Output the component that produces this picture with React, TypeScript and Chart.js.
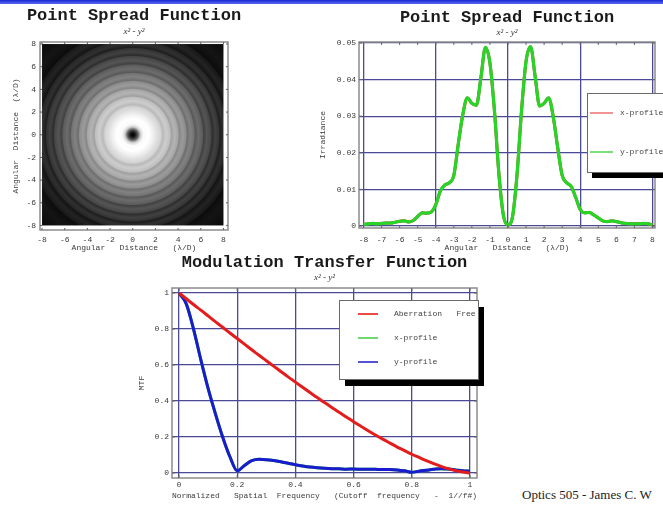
import React, { useEffect, useRef } from "react";
import { Chart, registerables } from "chart.js";

Chart.register(...registerables);

const MONO = "'Liberation Mono', 'DejaVu Sans Mono', monospace";
const SERIF = "'Liberation Serif', 'DejaVu Serif', serif";
const GRID = "#4a4a96";
const TEXT = "#3a3a3a";

// ---------- Left panel: PSF image (radial grey-level profile) ----------
const psfRingRadius = [
  0, 0.2, 0.45, 0.7, 0.95, 1.4, 1.8, 2.1, 2.45, 2.65, 2.95, 3.3, 3.4, 3.7, 4.0, 4.1, 4.4, 4.7, 4.8, 5.1,
  5.4, 5.5, 5.8, 6.15, 6.25, 6.55, 6.9, 7.0, 7.3, 7.6, 7.7, 8.0, 8.3, 8.4, 8.8, 9.2, 9.3, 10, 11.5,
];
const psfRingGray = [
  0, 20, 90, 210, 250, 255, 240, 225, 212, 185, 205, 190, 160, 180, 165, 135, 155, 140, 110, 130,
  115, 88, 108, 92, 65, 85, 70, 45, 65, 52, 30, 48, 38, 20, 35, 25, 12, 20, 8,
];
const psfImageExtent = [-8, 8];
const psfImageTicks = [-8, -6, -4, -2, 0, 2, 4, 6, 8];
const psfImageTickLabels = ["-8", "-6", "-4", "-2", "0", "2", "4", "6", "8"];

// ---------- Middle panel: PSF profiles ----------
const psfDistance = [
  -8, -7.75, -7.5, -7.25, -7, -6.75, -6.5, -6.25, -6, -5.75, -5.5, -5.25, -5, -4.75, -4.5, -4.25,
  -4, -3.75, -3.5, -3.25, -3, -2.75, -2.5, -2.25, -2, -1.75, -1.5, -1.25, -1, -0.75, -0.5, -0.25,
  0, 0.25, 0.5, 0.75, 1, 1.25, 1.5, 1.75, 2, 2.25, 2.5, 2.75, 3, 3.25, 3.5, 3.75,
  4, 4.25, 4.5, 4.75, 5, 5.25, 5.5, 5.75, 6, 6.25, 6.5, 6.75, 7, 7.25, 7.5, 7.75, 8,
];
const psfYProfile = [
  0.0004, 0.0006, 0.0007, 0.0006, 0.0007, 0.0008, 0.0008, 0.001, 0.0013, 0.0014, 0.0011, 0.0015, 0.0026, 0.0036, 0.0035, 0.0038,
  0.0058, 0.0095, 0.0112, 0.0118, 0.0138, 0.0225, 0.0305, 0.035, 0.0335, 0.033, 0.0405, 0.0488, 0.0445, 0.0315, 0.014, 0.0028,
  0.0003, 0.0025, 0.014, 0.0315, 0.045, 0.049, 0.041, 0.0328, 0.0335, 0.035, 0.03, 0.0215, 0.0138, 0.0118, 0.0108, 0.0078,
  0.0045, 0.0036, 0.0037, 0.003, 0.0022, 0.0014, 0.0012, 0.0014, 0.0012, 0.0009, 0.0007, 0.0006, 0.0006, 0.0006, 0.0007, 0.0006, 0.0003,
];
const psfXProfile = psfYProfile; // identical profile, hidden under the y-profile
const psfDistanceTicks = [-8, -7, -6, -5, -4, -3, -2, -1, 0, 1, 2, 3, 4, 5, 6, 7, 8];
const psfDistanceTickLabels = ["-8", "-7", "-6", "-5", "-4", "-3", "-2", "-1", "0", "1", "2", "3", "4", "5", "6", "7", "8"];
const psfGridDistances = [-8, -4, 0, 4, 8];
const psfIrradianceTicks = [0, 0.01, 0.02, 0.03, 0.04, 0.05];
const psfIrradianceTickLabels = ["0", "0.01", "0.02", "0.03", "0.04", "0.05"];

// ---------- Bottom panel: MTF ----------
const mtfFrequency = [
  0, 0.025, 0.05, 0.075, 0.1, 0.125, 0.15, 0.175, 0.2, 0.225, 0.25, 0.275, 0.3, 0.325, 0.35, 0.375, 0.4, 0.425, 0.45, 0.475,
  0.5, 0.525, 0.55, 0.575, 0.6, 0.625, 0.65, 0.675, 0.7, 0.725, 0.75, 0.775, 0.8, 0.825, 0.85, 0.875, 0.9, 0.925, 0.95, 0.975, 1,
];
const mtfAberrationFree = [
  1, 0.968, 0.936, 0.905, 0.873, 0.841, 0.81, 0.778, 0.747, 0.716, 0.685, 0.654, 0.624, 0.594, 0.564, 0.534, 0.505, 0.476, 0.447, 0.419,
  0.391, 0.364, 0.337, 0.311, 0.285, 0.26, 0.235, 0.211, 0.188, 0.166, 0.144, 0.124, 0.104, 0.086, 0.068, 0.052, 0.037, 0.024, 0.013, 0.005, 0,
];
const mtfYProfile = [
  1, 0.94, 0.8, 0.63, 0.47, 0.33, 0.2, 0.09, 0.012, 0.042, 0.068, 0.076, 0.074, 0.069, 0.062, 0.054, 0.046, 0.039, 0.033, 0.029,
  0.026, 0.024, 0.023, 0.021, 0.022, 0.02, 0.021, 0.02, 0.019, 0.019, 0.017, 0.012, 0.004, 0.01, 0.015, 0.02, 0.024, 0.022, 0.017, 0.012, 0.01,
];
const mtfXProfile = mtfYProfile; // identical profile, hidden under the y-profile
const mtfTicks = [0, 0.2, 0.4, 0.6, 0.8, 1];
const mtfTickLabels = ["0", "0.2", "0.4", "0.6", "0.8", "1"];

type AxisOpts = {
  position: "bottom" | "left";
  min: number;
  max: number;
  ticks: number[];
  labels: string[];
  size: number;
  tickPad: number;
  title: string;
  titlePad: number;
  gridOn?: (v: number) => boolean;
};

function linearAxis(o: AxisOpts) {
  const horizontal = o.position === "bottom";
  return {
    type: "linear",
    position: o.position,
    min: o.min,
    max: o.max,
    afterBuildTicks: (s: any) => {
      s.ticks = o.ticks.map((value) => ({ value }));
    },
    afterFit: (s: any) => {
      if (horizontal) s.height = o.size;
      else s.width = o.size;
    },
    ticks: {
      autoSkip: false,
      maxRotation: 0,
      minRotation: 0,
      padding: o.tickPad,
      color: TEXT,
      font: { family: MONO, size: 8, lineHeight: 1.2 },
      callback: (_v: any, i: number) => o.labels[i],
    },
    grid: {
      display: !!o.gridOn,
      drawTicks: false,
      lineWidth: 1.3,
      color: (c: any) => (c.tick && o.gridOn && o.gridOn(c.tick.value) ? GRID : "rgba(0,0,0,0)"),
    },
    border: { display: false },
    title: {
      display: true,
      text: o.title,
      color: TEXT,
      font: { family: MONO, size: 8, lineHeight: 1.2 },
      padding: horizontal ? { top: 0, bottom: o.titlePad } : { top: o.titlePad, bottom: 0 },
    },
  };
}

function framePlugin(tickLen: number) {
  return {
    id: "frame",
    afterDatasetsDraw(chart: any) {
      const { ctx, chartArea: a, scales } = chart;
      ctx.save();
      ctx.strokeStyle = "#8c8c8c";
      ctx.lineWidth = 1.5;
      ctx.strokeRect(a.left, a.top, a.right - a.left, a.bottom - a.top);
      ctx.strokeStyle = "#666";
      ctx.lineWidth = 1;
      ctx.beginPath();
      for (const t of scales.x.ticks) {
        const p = scales.x.getPixelForValue(t.value);
        ctx.moveTo(p, a.bottom);
        ctx.lineTo(p, a.bottom - tickLen);
        ctx.moveTo(p, a.top);
        ctx.lineTo(p, a.top + tickLen);
      }
      for (const t of scales.y.ticks) {
        const p = scales.y.getPixelForValue(t.value);
        ctx.moveTo(a.left, p);
        ctx.lineTo(a.left + tickLen, p);
        ctx.moveTo(a.right, p);
        ctx.lineTo(a.right - tickLen, p);
      }
      ctx.stroke();
      ctx.restore();
    },
  };
}

function headingPlugin(title: string, subtitle: string, titleDy: number, subDy: number) {
  return {
    id: "heading",
    afterDraw(chart: any) {
      const { ctx, chartArea: a } = chart;
      const cx = (a.left + a.right) / 2;
      ctx.save();
      ctx.textAlign = "center";
      ctx.textBaseline = "middle";
      ctx.fillStyle = "#1a1a1a";
      ctx.font = `bold 17px ${MONO}`;
      ctx.fillText(title, cx, a.top - titleDy);
      ctx.fillStyle = "#333";
      ctx.font = `italic 9px ${SERIF}`;
      ctx.fillText(subtitle, cx, a.top - subDy);
      ctx.restore();
    },
  };
}

type LegendCfg = {
  dx: number;
  dy: number;
  w: number;
  h: number;
  sx: number;
  sy: number;
  rows: number[];
  lineX0: number;
  lineX1: number;
  textX: number;
  colors: string[];
};

function boxLegendPlugin(cfg: LegendCfg) {
  return {
    id: "boxLegend",
    afterDraw(chart: any) {
      const { ctx, chartArea: a } = chart;
      const x = a.left + cfg.dx;
      const y = a.top + cfg.dy;
      ctx.save();
      ctx.fillStyle = "#000";
      ctx.fillRect(x + cfg.sx, y + cfg.sy, cfg.w, cfg.h);
      ctx.fillStyle = "#fff";
      ctx.fillRect(x, y, cfg.w, cfg.h);
      ctx.strokeStyle = "#6a6a6a";
      ctx.lineWidth = 1;
      ctx.strokeRect(x + 0.5, y + 0.5, cfg.w, cfg.h);
      ctx.beginPath();
      ctx.rect(x + 1, y + 1, cfg.w - 1, cfg.h - 1);
      ctx.clip();
      chart.data.datasets.forEach((ds: any, i: number) => {
        const ry = y + cfg.rows[i];
        ctx.strokeStyle = cfg.colors[i];
        ctx.lineWidth = 1.6;
        ctx.beginPath();
        ctx.moveTo(x + cfg.lineX0, ry);
        ctx.lineTo(x + cfg.lineX1, ry);
        ctx.stroke();
        ctx.fillStyle = "#444";
        ctx.font = `8px ${MONO}`;
        ctx.textAlign = "left";
        ctx.textBaseline = "middle";
        ctx.fillText(String(ds.label).replace(/ /g, "   "), x + cfg.textX, ry);
      });
      ctx.restore();
    },
  };
}

const psfImagePlugin = {
  id: "psfImage",
  beforeDatasetsDraw(chart: any) {
    const { ctx, scales } = chart;
    const xs = scales.x;
    const ys = scales.y;
    const x0 = xs.getPixelForValue(psfImageExtent[0]);
    const x1 = xs.getPixelForValue(psfImageExtent[1]);
    const y0 = ys.getPixelForValue(psfImageExtent[1]);
    const y1 = ys.getPixelForValue(psfImageExtent[0]);
    const cx = xs.getPixelForValue(0);
    const cy = ys.getPixelForValue(0);
    const rMax = psfRingRadius[psfRingRadius.length - 1];
    const R = xs.getPixelForValue(rMax) - cx;
    const g = ctx.createRadialGradient(cx, cy, 0, cx, cy, R);
    psfRingRadius.forEach((r, i) => {
      const v = psfRingGray[i];
      g.addColorStop(r / rMax, `rgb(${v},${v},${v})`);
    });
    ctx.save();
    ctx.fillStyle = g;
    ctx.fillRect(x0, y0, x1 - x0, y1 - y0);
    ctx.restore();
  },
};

const baseOptions = {
  animation: false,
  responsive: false,
  maintainAspectRatio: false,
  events: [],
};

export default function App() {
  const c1 = useRef<HTMLCanvasElement>(null);
  const c2 = useRef<HTMLCanvasElement>(null);
  const c3 = useRef<HTMLCanvasElement>(null);

  useEffect(() => {
    const charts: Chart[] = [];

    charts.push(
      new Chart(c1.current as HTMLCanvasElement, {
        type: "scatter",
        data: { datasets: [{ label: "x² - y²", data: [] }] },
        options: {
          ...baseOptions,
          layout: { padding: { top: 42, right: 34, left: 0, bottom: 0 } },
          plugins: { legend: { display: false }, tooltip: { enabled: false } },
          scales: {
            x: linearAxis({
              position: "bottom", min: -8.18, max: 8.4, ticks: psfImageTicks, labels: psfImageTickLabels,
              size: 32, tickPad: 5, title: "Angular   Distance   (λ/D)", titlePad: 9.7,
            }),
            y: linearAxis({
              position: "left", min: -8.4, max: 8.18, ticks: psfImageTicks, labels: psfImageTickLabels,
              size: 40, tickPad: 4, title: "Angular  Distance  (λ/D)", titlePad: 11.2,
            }),
          },
        } as any,
        plugins: [psfImagePlugin, framePlugin(2), headingPlugin("Point Spread Function", "x² - y²", 26, 10.5)],
      } as any)
    );

    charts.push(
      new Chart(c2.current as HTMLCanvasElement, {
        type: "line",
        data: {
          datasets: [
            {
              label: "x-profile",
              data: psfDistance.map((d, i) => ({ x: d, y: psfXProfile[i] })),
              borderColor: "#e02020",
              borderWidth: 3,
              pointRadius: 0,
              cubicInterpolationMode: "monotone",
              order: 1,
            },
            {
              label: "y-profile",
              data: psfDistance.map((d, i) => ({ x: d, y: psfYProfile[i] })),
              borderColor: "#26d626",
              borderWidth: 3.2,
              pointRadius: 0,
              cubicInterpolationMode: "monotone",
              order: 0,
            },
          ],
        },
        options: {
          ...baseOptions,
          layout: { padding: { top: 42, right: 8, left: 0, bottom: 0 } },
          plugins: { legend: { display: false }, tooltip: { enabled: false } },
          scales: {
            x: linearAxis({
              position: "bottom", min: -8.25, max: 8.14, ticks: psfDistanceTicks, labels: psfDistanceTickLabels,
              size: 34, tickPad: 7, title: "Angular   Distance   (λ/D)", titlePad: 9.2,
              gridOn: (v) => psfGridDistances.includes(v),
            }),
            y: linearAxis({
              position: "left", min: -0.00055, max: 0.05027, ticks: psfIrradianceTicks, labels: psfIrradianceTickLabels,
              size: 59, tickPad: 3, title: "Irradiance", titlePad: 18.2,
              gridOn: () => true,
            }),
          },
        } as any,
        plugins: [
          framePlugin(3),
          headingPlugin("Point Spread Function", "x² - y²", 24, 9),
          boxLegendPlugin({
            dx: 228, dy: 51, w: 130, h: 79, sx: 5, sy: 6,
            rows: [20, 59], lineX0: 3, lineX1: 26, textX: 33,
            colors: ["#f07a7a", "#5ad85a"],
          }),
        ],
      } as any)
    );

    charts.push(
      new Chart(c3.current as HTMLCanvasElement, {
        type: "line",
        data: {
          datasets: [
            {
              label: "Aberration Free",
              data: mtfFrequency.map((f, i) => ({ x: f, y: mtfAberrationFree[i] })),
              borderColor: "#e41c1c",
              borderWidth: 3,
              pointRadius: 0,
              cubicInterpolationMode: "monotone",
              order: 0,
            },
            {
              label: "x-profile",
              data: mtfFrequency.map((f, i) => ({ x: f, y: mtfXProfile[i] })),
              borderColor: "#22d022",
              borderWidth: 3,
              pointRadius: 0,
              cubicInterpolationMode: "monotone",
              order: 2,
            },
            {
              label: "y-profile",
              data: mtfFrequency.map((f, i) => ({ x: f, y: mtfYProfile[i] })),
              borderColor: "#1a1ad0",
              borderWidth: 3,
              pointRadius: 0,
              cubicInterpolationMode: "monotone",
              order: 1,
            },
          ],
        },
        options: {
          ...baseOptions,
          layout: { padding: { top: 38, right: 16, left: 0, bottom: 0 } },
          plugins: { legend: { display: false }, tooltip: { enabled: false } },
          scales: {
            x: linearAxis({
              position: "bottom", min: -0.024, max: 1.024, ticks: mtfTicks, labels: mtfTickLabels,
              size: 28, tickPad: 2.2, title: "Normalized   Spatial  Frequency   (Cutoff  frequency   -  1//f#)", titlePad: 5.2,
              gridOn: () => true,
            }),
            y: linearAxis({
              position: "left", min: -0.028, max: 1.028, ticks: mtfTicks, labels: mtfTickLabels,
              size: 42, tickPad: 3, title: "MTF", titlePad: 6.9,
              gridOn: () => true,
            }),
          },
        } as any,
        plugins: [
          framePlugin(3),
          headingPlugin("Modulation Transfer Function", "x² - y²", 25, 10),
          boxLegendPlugin({
            dx: 167, dy: 12, w: 139, h: 79, sx: 6, sy: 7,
            rows: [14, 38, 62], lineX0: 19, lineX1: 39, textX: 55,
            colors: ["#e41c1c", "#4cd04c", "#2a2ad0"],
          }),
        ],
      } as any)
    );

    return () => charts.forEach((c) => c.destroy());
  }, []);

  const abs = (left: number, top: number): React.CSSProperties => ({
    position: "absolute",
    left,
    top,
    display: "block",
  });

  return (
    <div
      style={{
        position: "absolute",
        left: 0,
        top: 0,
        width: 663,
        height: 506,
        overflow: "hidden",
        background: "#fff",
      }}
    >
      <div
        style={{
          position: "absolute",
          left: 0,
          top: 0,
          width: 663,
          height: 4,
          background: "linear-gradient(to bottom, #1626d0, #5a6cf2)",
        }}
      />
      <canvas ref={c1} width={262} height={262} style={abs(0, 0)} />
      <canvas ref={c2} width={363} height={262} style={abs(300, 0)} />
      <canvas ref={c3} width={363} height={256} style={abs(130, 250)} />
      <div
        style={{
          position: "absolute",
          left: 522,
          top: 487,
          fontFamily: SERIF,
          fontSize: 13,
          lineHeight: "16px",
          color: "#222",
          whiteSpace: "nowrap",
        }}
      >
        Optics 505 - James C. W
      </div>
    </div>
  );
}
